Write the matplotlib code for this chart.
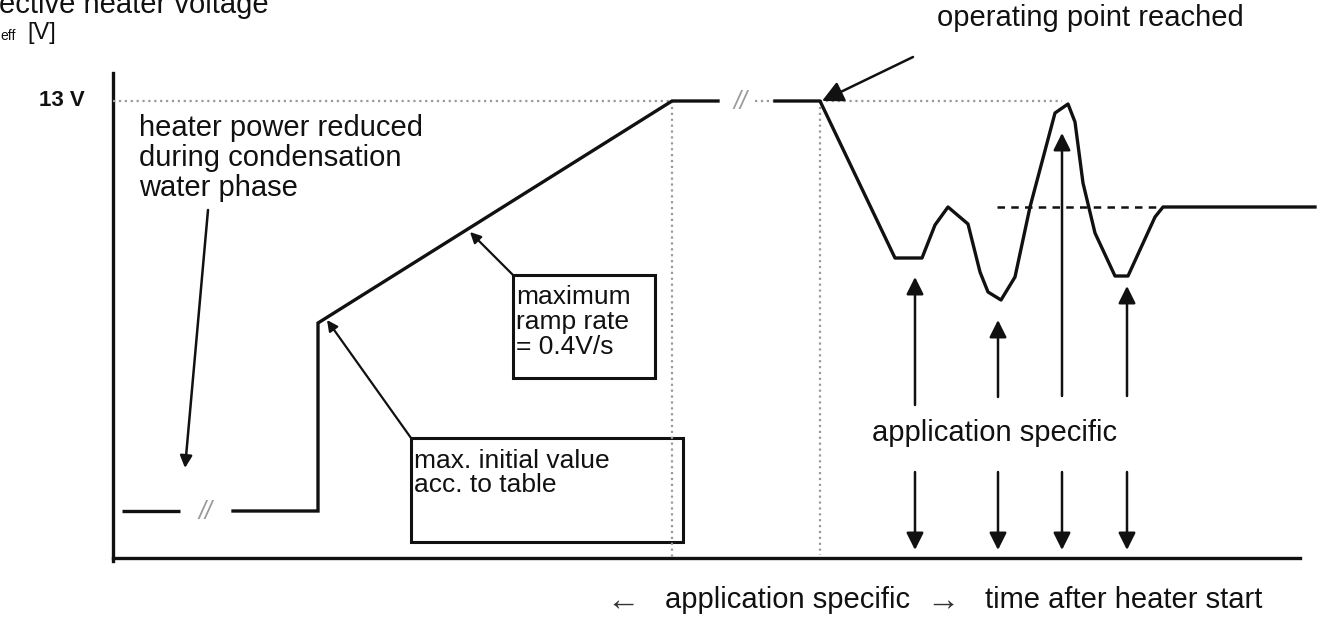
import matplotlib.pyplot as plt

plt.rcParams['font.family'] = ['Liberation Sans', 'DejaVu Sans']

# canvas units: pixels of the original drawing (y grows downwards)
W, H = 1322, 619

# axes of the diagram
axis_x0, axis_x1 = 113, 1300
axis_top, axis_bottom = 73, 558
level_13v = 101

# heater voltage trace, piece by piece
start_x = [122, 180]
start_y = [511, 511]
ramp_x = [233, 318, 318, 672, 718]
ramp_y = [511, 511, 323, 101, 101]
oper_x = [775, 820, 895, 922, 935, 948, 968, 980, 988, 1001, 1015, 1030, 1055,
          1068, 1075, 1083, 1095, 1115, 1128, 1155, 1163, 1315]
oper_y = [101, 101, 258, 258, 225, 207, 224, 272, 292, 300, 277, 207, 113,
          104, 122, 183, 233, 276, 276, 217, 207, 207]

# target level (dashed) and helper lines
target_x = [997, 1163]
target_y = 207
ramp_end_x = 672
oper_start_x = 820
peak_x = 1062

# "application specific" arrows
app_x = [915, 998, 1062, 1127]
app_up_tip = [277, 320, 133, 286]
app_up_tail = [405, 397, 396, 396]
app_down_tail = 472
app_down_tip = 550

fig = plt.figure(figsize=(W / 100, H / 100), dpi=100)
ax = fig.add_axes([0, 0, 1, 1])
ax.set_xlim(0, W)
ax.set_ylim(H, 0)
ax.axis('off')

black = '#111111'
grey = '#9a9a9a'
lw = 2.4

# axes lines
ax.plot([axis_x0, axis_x0], [axis_top, axis_bottom + 3], color=black, lw=2.4)
ax.plot([axis_x0, axis_x1], [axis_bottom, axis_bottom], color=black, lw=2.4)

# dotted guide lines
ax.plot([axis_x0, ramp_end_x], [level_13v, level_13v], color=grey, lw=1.6, ls=':')
ax.plot([ramp_end_x, ramp_end_x], [level_13v, axis_bottom], color=grey, lw=1.6, ls=':')
ax.plot([oper_start_x, peak_x], [level_13v, level_13v], color=grey, lw=1.6, ls=':')
ax.plot([oper_start_x, oper_start_x], [level_13v, axis_bottom - 3], color=grey, lw=1.6, ls=':')
ax.plot([755, 775], [level_13v, level_13v], color=grey, lw=1.6, ls=':')

# voltage trace
ax.plot(start_x, start_y, color=black, lw=lw, solid_capstyle='butt')
ax.plot(ramp_x, ramp_y, color=black, lw=lw, solid_joinstyle='miter')
ax.plot(oper_x, oper_y, color=black, lw=lw, solid_joinstyle='round')
ax.plot(target_x, [target_y, target_y], color=black, lw=1.8, ls=(0, (3, 2.5)))

# break marks
ax.text(205, 512, '//', color=grey, fontsize=18, style='italic', ha='center', va='center')
ax.text(740, 102, '//', color=grey, fontsize=18, style='italic', ha='center', va='center')

# labels (top-left one is cut by the picture edge, as in the source)
ax.text(85, 101, '13 V', fontsize=16, fontweight='bold', ha='right', va='center', color=black)
ax.text(-1, 13, 'ective heater voltage', fontsize=21, ha='left', va='baseline', color=black)
ax.text(27, 33, '[V]', fontsize=17, ha='left', va='center', color=black)
ax.text(0, 36, 'eff', fontsize=10, ha='left', va='center', color=black)

ax.text(139, 158, 'heater power reduced\nduring condensation\nwater phase', fontsize=21,
        ha='left', va='center', linespacing=1.07, color=black)
ax.annotate('', xy=(185, 468), xytext=(208, 210),
            arrowprops=dict(arrowstyle='-|>', color=black, lw=1.8, mutation_scale=18, shrinkA=0, shrinkB=0))

ax.text(937, 18, 'operating point reached', fontsize=21, ha='left', va='center', color=black)
ax.annotate('', xy=(822, 101), xytext=(913, 57),
            arrowprops=dict(arrowstyle='-|>', color=black, lw=1.8, mutation_scale=32, shrinkA=0, shrinkB=0))

# boxes
ax.add_patch(plt.Rectangle((513, 275), 142, 103, fill=False, ec=black, lw=2.2))
ax.text(516, 322, 'maximum\nramp rate\n= 0.4V/s', fontsize=19, ha='left', va='center',
        linespacing=1.03, color=black)
ax.annotate('', xy=(470, 232), xytext=(513, 275),
            arrowprops=dict(arrowstyle='-|>', color=black, lw=1.6, mutation_scale=16, shrinkA=0, shrinkB=0))

ax.add_patch(plt.Rectangle((411, 438), 272, 104, fill=False, ec=black, lw=2.2))
ax.text(414, 473, 'max. initial value\nacc. to table', fontsize=19, ha='left', va='center',
        linespacing=1.05, color=black)
ax.annotate('', xy=(327, 320), xytext=(411, 438),
            arrowprops=dict(arrowstyle='-|>', color=black, lw=1.6, mutation_scale=16, shrinkA=0, shrinkB=0))

# application specific arrows
for x, tip, tail in zip(app_x, app_up_tip, app_up_tail):
    ax.annotate('', xy=(x, tip), xytext=(x, tail),
                arrowprops=dict(arrowstyle='-|>', color=black, lw=1.8, mutation_scale=26, shrinkA=0, shrinkB=0))
    ax.annotate('', xy=(x, app_down_tip), xytext=(x, app_down_tail),
                arrowprops=dict(arrowstyle='-|>', color=black, lw=1.8, mutation_scale=26, shrinkA=0, shrinkB=0))
ax.text(995, 433, 'application specific', fontsize=21, ha='center', va='center', color=black)

# x-axis caption
ax.text(623, 601, '\u2190', fontsize=24, ha='center', va='center', color='#333333')
ax.text(665, 600, 'application specific', fontsize=21, ha='left', va='center', color=black)
ax.text(943, 601, '\u2192', fontsize=24, ha='center', va='center', color='#333333')
ax.text(985, 600, 'time after heater start', fontsize=21, ha='left', va='center', color=black)

fig.savefig('out.png', dpi=100)
